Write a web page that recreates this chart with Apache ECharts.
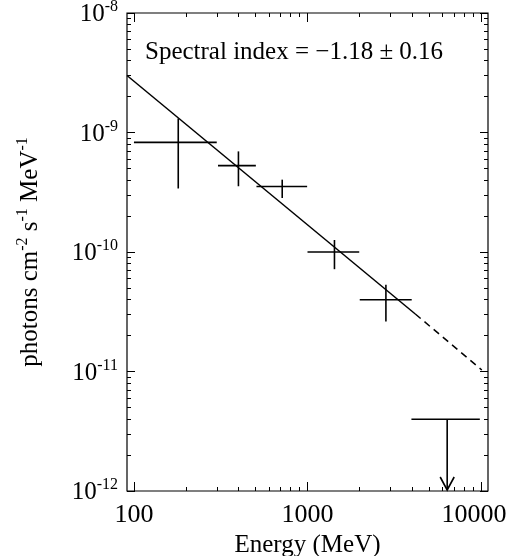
<!DOCTYPE html>
<html><head><meta charset="utf-8">
<script src="https://cdn.jsdelivr.net/npm/echarts@6/dist/echarts.min.js"></script>
<style>html,body{margin:0;padding:0;background:#fff}#c{width:512px;height:556px}</style>
</head><body><div id="c"></div>
<script>
// ---- data ----
const energy     = [180, 400, 715, 1430, 2830];          // MeV, bin centres
const energyLow  = [100, 305, 508, 1000, 2000];          // bin low edges
const energyHigh = [300, 504, 995, 1986, 3985];          // bin high edges
const flux       = [8.26e-10, 5.28e-10, 3.53e-10, 1.00e-10, 3.98e-11];
const fluxHigh   = [1.31e-9, 6.95e-10, 4.03e-10, 1.26e-10, 5.31e-11];
const fluxLow    = [3.40e-10, 3.55e-10, 2.83e-10, 7.18e-11, 2.62e-11];

const limitEnergy = [6380];
const limitLow    = [3970];
const limitHigh   = [9840];
const limitFlux   = [3.98e-12];
const limitArrowTo = [1e-12];

const fitSolidX = [91.2, 4180];
const fitSolidY = [3.0e-9, 3.03e-11];
const fitDashX  = [4180, 10100];
const fitDashY  = [3.03e-11, 1.03e-11];

const xMajorTicks = [100, 1000, 10000];
const xMinorTicks = [200, 300, 400, 500, 600, 700, 800, 900,
                     2000, 3000, 4000, 5000, 6000, 7000, 8000, 9000];
const yMajorTicks = [1e-12, 1e-11, 1e-10, 1e-9, 1e-8];
const yMinorTicks = [2e-12, 3e-12, 4e-12, 5e-12, 6e-12, 7e-12, 8e-12, 9e-12,
                     2e-11, 3e-11, 4e-11, 5e-11, 6e-11, 7e-11, 8e-11, 9e-11,
                     2e-10, 3e-10, 4e-10, 5e-10, 6e-10, 7e-10, 8e-10, 9e-10,
                     2e-9, 3e-9, 4e-9, 5e-9, 6e-9, 7e-9, 8e-9, 9e-9];
const xRange = [91.2, 10965];
const yRange = [1e-12, 1e-8];
const annotation = 'Spectral index = \u22121.18 \u00b1 0.16';

// ---- chart ----
const FONT = '"Liberation Serif", "Times New Roman", serif';
const chart = echarts.init(document.getElementById('c'), null, {renderer: 'canvas'});

function xAxisDef(pos, ticks, len, labels, extra) {
  return Object.assign({
    type: 'log', logBase: 10, gridIndex: 0, position: pos,
    min: xRange[0], max: xRange[1],
    axisLine: {show: false},
    splitLine: {show: false},
    axisTick: {show: true, inside: true, length: len, customValues: ticks,
               lineStyle: {color: '#000', width: 1}},
    axisLabel: labels ? {
      show: true, customValues: xMajorTicks, margin: 11,
      color: '#000', fontFamily: FONT, fontSize: 26,
      formatter: v => {
        const s = String(Math.round(v));
        return v > 5000 ? '{e|' + s + '}' : '{n|' + s + '}';
      },
      rich: {
        n: {fontSize: 26, fontFamily: FONT, color: '#000'},
        e: {fontSize: 26, fontFamily: FONT, color: '#000', padding: [0, 14, 0, 0]}
      }
    } : {show: false}
  }, extra || {});
}
function yAxisDef(pos, ticks, len, labels, extra) {
  return Object.assign({
    type: 'log', logBase: 10, gridIndex: 0, position: pos,
    min: yRange[0], max: yRange[1],
    axisLine: {show: false},
    splitLine: {show: false},
    axisTick: {show: true, inside: true, length: len, customValues: ticks,
               lineStyle: {color: '#000', width: 1}},
    axisLabel: labels ? {
      show: true, customValues: yMajorTicks, margin: 9,
      color: '#000', fontFamily: FONT,
      formatter: v => '{b|10}{s|' + Math.round(Math.log10(v)) + '}',
      rich: {
        b: {fontSize: 25, fontFamily: FONT, color: '#000', lineHeight: 28, verticalAlign: 'bottom'},
        s: {fontSize: 16, fontFamily: FONT, color: '#000', lineHeight: 28, verticalAlign: 'top'}
      }
    } : {show: false}
  }, extra || {});
}

const errData = energy.map((e, i) => [e, flux[i], energyLow[i], energyHigh[i], fluxHigh[i], fluxLow[i]]);
const limData = limitEnergy.map((e, i) => [e, limitFlux[i], limitLow[i], limitHigh[i], limitArrowTo[i]]);

const option = {
  animation: false,
  backgroundColor: '#fff',
  grid: {left: 127, right: 24, top: 13, bottom: 65, show: true,
         outerBoundsMode: 'none',
         borderColor: '#000', borderWidth: 1.2, backgroundColor: 'transparent', containLabel: false},
  xAxis: [
    xAxisDef('bottom', xMajorTicks, 9, true, {
      name: 'Energy (MeV)', nameLocation: 'middle', nameGap: 38,
      nameTextStyle: {color: '#000', fontFamily: FONT, fontSize: 25}
    }),
    xAxisDef('bottom', xMinorTicks, 4, false),
    xAxisDef('top', xMajorTicks, 9, false),
    xAxisDef('top', xMinorTicks, 4, false)
  ],
  yAxis: [
    yAxisDef('left', yMajorTicks, 8, true, {
      name: '{n|photons cm}{s|-2}{n| s}{s|-1}{n| MeV}{s|-1}',
      nameLocation: 'middle', nameGap: 84, nameRotate: 90,
      nameTextStyle: {
        color: '#000', fontFamily: FONT,
        rich: {
          n: {fontSize: 25, fontFamily: FONT, color: '#000', lineHeight: 28, verticalAlign: 'bottom'},
          s: {fontSize: 16, fontFamily: FONT, color: '#000', lineHeight: 28, verticalAlign: 'top'}
        }
      }
    }),
    yAxisDef('left', yMinorTicks, 4, false),
    yAxisDef('right', yMajorTicks, 8, false),
    yAxisDef('right', yMinorTicks, 4, false)
  ],
  graphic: [{
    type: 'text', left: 145, top: 40, z: 10,
    style: {text: annotation, fill: '#000', font: '25px ' + FONT}
  }],
  series: [
    {
      type: 'line', xAxisIndex: 0, yAxisIndex: 0, showSymbol: false, symbol: 'none',
      data: fitSolidX.map((x, i) => [x, fitSolidY[i]]),
      lineStyle: {color: '#000', width: 1.5}, silent: true
    },
    {
      type: 'line', xAxisIndex: 0, yAxisIndex: 0, showSymbol: false, symbol: 'none',
      data: fitDashX.map((x, i) => [x, fitDashY[i]]),
      lineStyle: {color: '#000', width: 1.5, type: [7, 5]}, silent: true
    },
    {
      type: 'custom', xAxisIndex: 0, yAxisIndex: 0, silent: true,
      data: errData,
      encode: {x: 0, y: 1},
      renderItem: function (params, api) {
        const y = api.value(1), x = api.value(0);
        const l = api.coord([api.value(2), y]);
        const r = api.coord([api.value(3), y]);
        const t = api.coord([x, api.value(4)]);
        const b = api.coord([x, api.value(5)]);
        const st = {stroke: '#000', lineWidth: 1.6};
        return {type: 'group', children: [
          {type: 'line', shape: {x1: l[0], y1: l[1], x2: r[0], y2: r[1]}, style: st},
          {type: 'line', shape: {x1: t[0], y1: t[1], x2: b[0], y2: b[1]}, style: st}
        ]};
      }
    },
    {
      type: 'custom', xAxisIndex: 0, yAxisIndex: 0, silent: true,
      data: limData,
      encode: {x: 0, y: 1},
      renderItem: function (params, api) {
        const x = api.value(0), y = api.value(1);
        const l = api.coord([api.value(2), y]);
        const r = api.coord([api.value(3), y]);
        const top = api.coord([x, y]);
        const tip = api.coord([x, api.value(4)]);
        const st = {stroke: '#000', lineWidth: 1.6, fill: null};
        return {type: 'group', children: [
          {type: 'line', shape: {x1: l[0], y1: l[1], x2: r[0], y2: r[1]}, style: st},
          {type: 'line', shape: {x1: top[0], y1: top[1], x2: tip[0], y2: tip[1] - 1}, style: st},
          {type: 'polyline', shape: {points: [[tip[0] - 7, tip[1] - 14], [tip[0], tip[1] - 1], [tip[0] + 7, tip[1] - 14]]}, style: st}
        ]};
      }
    }
  ]
};
chart.setOption(option);
</script>
</body></html>
